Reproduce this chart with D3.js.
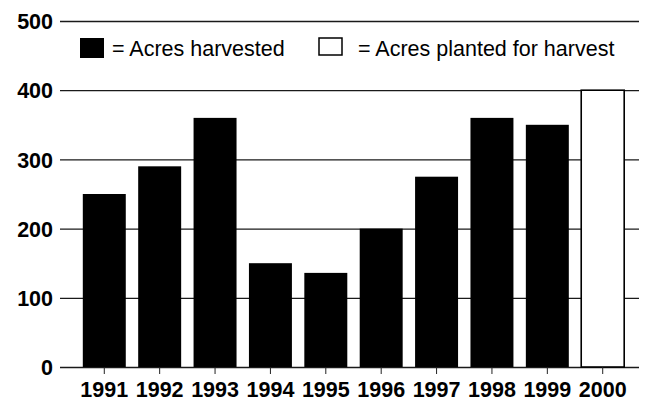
<!DOCTYPE html>
<html>
<head>
<meta charset="utf-8">
<script src="https://cdn.jsdelivr.net/npm/d3@7"></script>
<style>
  body { margin: 0; background: #fff; }
  svg text { font-family: "Liberation Sans", Arial, sans-serif; fill: #000; }
</style>
</head>
<body>
<svg id="chart" width="649" height="401"></svg>
<script>
// data
var years = ["1991", "1992", "1993", "1994", "1995", "1996", "1997", "1998", "1999", "2000"];
var acres = [250, 290, 360, 150, 136, 200, 275, 360, 350, 400];
var kinds = ["harvested", "harvested", "harvested", "harvested", "harvested",
             "harvested", "harvested", "harvested", "harvested", "planted"];
var yTicks = [0, 100, 200, 300, 400, 500];
var legendLabels = ["= Acres harvested", "= Acres planted for harvest"];

var svg = d3.select("#chart");

var x = d3.scaleBand()
    .domain(years)
    .range([76.6, 630.4])
    .paddingInner(0.224)
    .paddingOuter(0.112);

var y = d3.scaleLinear()
    .domain([0, 500])
    .range([367, 21]);

// gridlines behind the bars
var yAxis = d3.axisLeft(y)
    .tickValues(yTicks)
    .tickSize(-579)
    .tickFormat(d3.format("d"));

var gy = svg.append("g")
    .attr("transform", "translate(60,0)")
    .call(yAxis);
gy.select(".domain").remove();
gy.selectAll(".tick line")
    .attr("stroke", "#1a1a1a")
    .attr("stroke-width", 1.3);
gy.selectAll(".tick text")
    .attr("x", -7)
    .attr("dy", "0.36em")
    .style("font-size", "21.5px")
    .style("font-weight", "bold");

// bars
svg.append("g")
  .selectAll("rect")
  .data(years)
  .join("rect")
    .attr("x", d => x(d))
    .attr("width", x.bandwidth())
    .attr("y", (d, i) => y(acres[i]))
    .attr("height", (d, i) => y(0) - y(acres[i]))
    .attr("fill", (d, i) => kinds[i] === "planted" ? "#fff" : "#000")
    .attr("stroke", (d, i) => kinds[i] === "planted" ? "#000" : "none")
    .attr("stroke-width", 1.6);

// x axis: ticks below the baseline and year labels
var xAxis = d3.axisBottom(x)
    .tickSize(7)
    .tickPadding(7.5);

var gx = svg.append("g")
    .attr("transform", "translate(0,367)")
    .call(xAxis);
gx.select(".domain").remove();
gx.selectAll(".tick line").attr("stroke", "#222");
gx.selectAll(".tick text")
    .style("font-size", "21.5px")
    .style("font-weight", "bold")
    .attr("dy", "0.71em");

// legend
var legend = svg.append("g");
legend.append("rect")
    .attr("x", 80).attr("y", 38)
    .attr("width", 24).attr("height", 20)
    .attr("fill", "#000");
legend.append("text")
    .attr("x", 112).attr("y", 56)
    .style("font-size", "21.5px")
    .text(legendLabels[0]);
legend.append("rect")
    .attr("x", 319).attr("y", 38)
    .attr("width", 23).attr("height", 17)
    .attr("fill", "#fff")
    .attr("stroke", "#000")
    .attr("stroke-width", 1.5);
legend.append("text")
    .attr("x", 358).attr("y", 56)
    .style("font-size", "21.5px")
    .text(legendLabels[1]);
</script>
</body>
</html>
